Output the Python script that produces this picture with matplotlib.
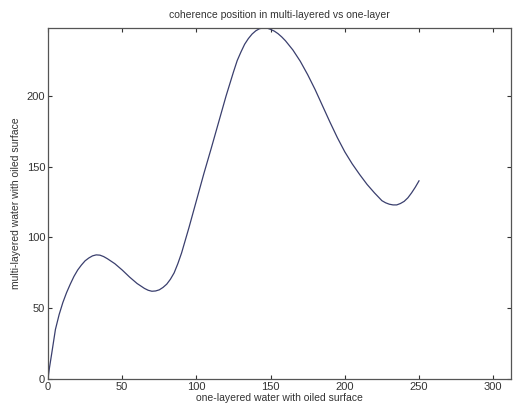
import matplotlib
matplotlib.use("Agg")
import matplotlib.pyplot as plt

x_vals = [0, 1, 2.5, 5, 7.5, 10, 12.5, 15, 17.5, 20, 22.5, 25, 27.5, 30, 32.5, 35, 37.5, 40,
          45, 50, 55, 60, 65, 67.5, 70, 72.5, 75, 77.5, 80, 82.5, 85, 87.5, 90, 95,
          100, 105, 110, 115, 120, 125, 127.5, 130, 132.5, 135, 137.5, 140, 142.5, 145,
          147.5, 150, 152.5, 155, 157.5, 160, 165, 170, 175, 180, 185, 190, 195, 200,
          205, 210, 215, 220, 225, 227.5, 230, 232.5, 235, 237.5, 240, 242.5, 245, 247.5, 250]
y_vals = [0, 8, 18, 35, 45.5, 54, 61, 67, 72.5, 77, 80.5, 83.5, 85.5, 87, 87.7, 87.5, 86.5, 85,
          81.5, 77, 72, 67.5, 64, 62.7, 62, 62.2, 63, 64.7, 67, 70.5, 75, 81.5, 89, 107,
          126, 145, 163, 181.5, 200, 217, 225, 231, 236.5, 240.5, 243.7, 246, 247.5, 248,
          248, 247, 245.8, 244, 241.7, 239, 232.5, 224.5, 215, 204.5, 193, 181.5, 170.5, 160.5,
          152, 144.5, 137.5, 131.5, 126, 124.5, 123.5, 123, 123, 124, 125.5, 128, 131.5, 135.5, 140]

x_ticks = [0, 50, 100, 150, 200, 250, 300]
y_ticks = [0, 50, 100, 150, 200]

plt.rcParams['font.family'] = ['Liberation Sans', 'DejaVu Sans']

fig = plt.figure(figsize=(5.13, 4.07), dpi=100)
ax = fig.add_axes([48/513, 1-379/407, (511-48)/513, (379-28)/407])
ax.plot(x_vals, y_vals, color='#3a3f6e', lw=0.9)
ax.set_xlim(0, 312)
ax.set_ylim(0, max(y_vals))
ax.set_xticks(x_ticks)
ax.set_yticks(y_ticks)
ax.tick_params(direction='in', top=True, right=True, length=3, width=0.8,
               labelsize=8, colors='#333333', pad=2)
for s in ax.spines.values():
    s.set_color('#555555')
    s.set_linewidth(0.9)
ax.set_title('coherence position in multi-layered vs one-layer', fontsize=7.5, color='#333333', pad=7)
ax.set_xlabel('one-layered water with oiled surface', fontsize=7.5, color='#333333', labelpad=1)
ax.set_ylabel('multi-layered water with oiled surface', fontsize=7.5, color='#333333', labelpad=4)
fig.savefig('out.png', dpi=100)
